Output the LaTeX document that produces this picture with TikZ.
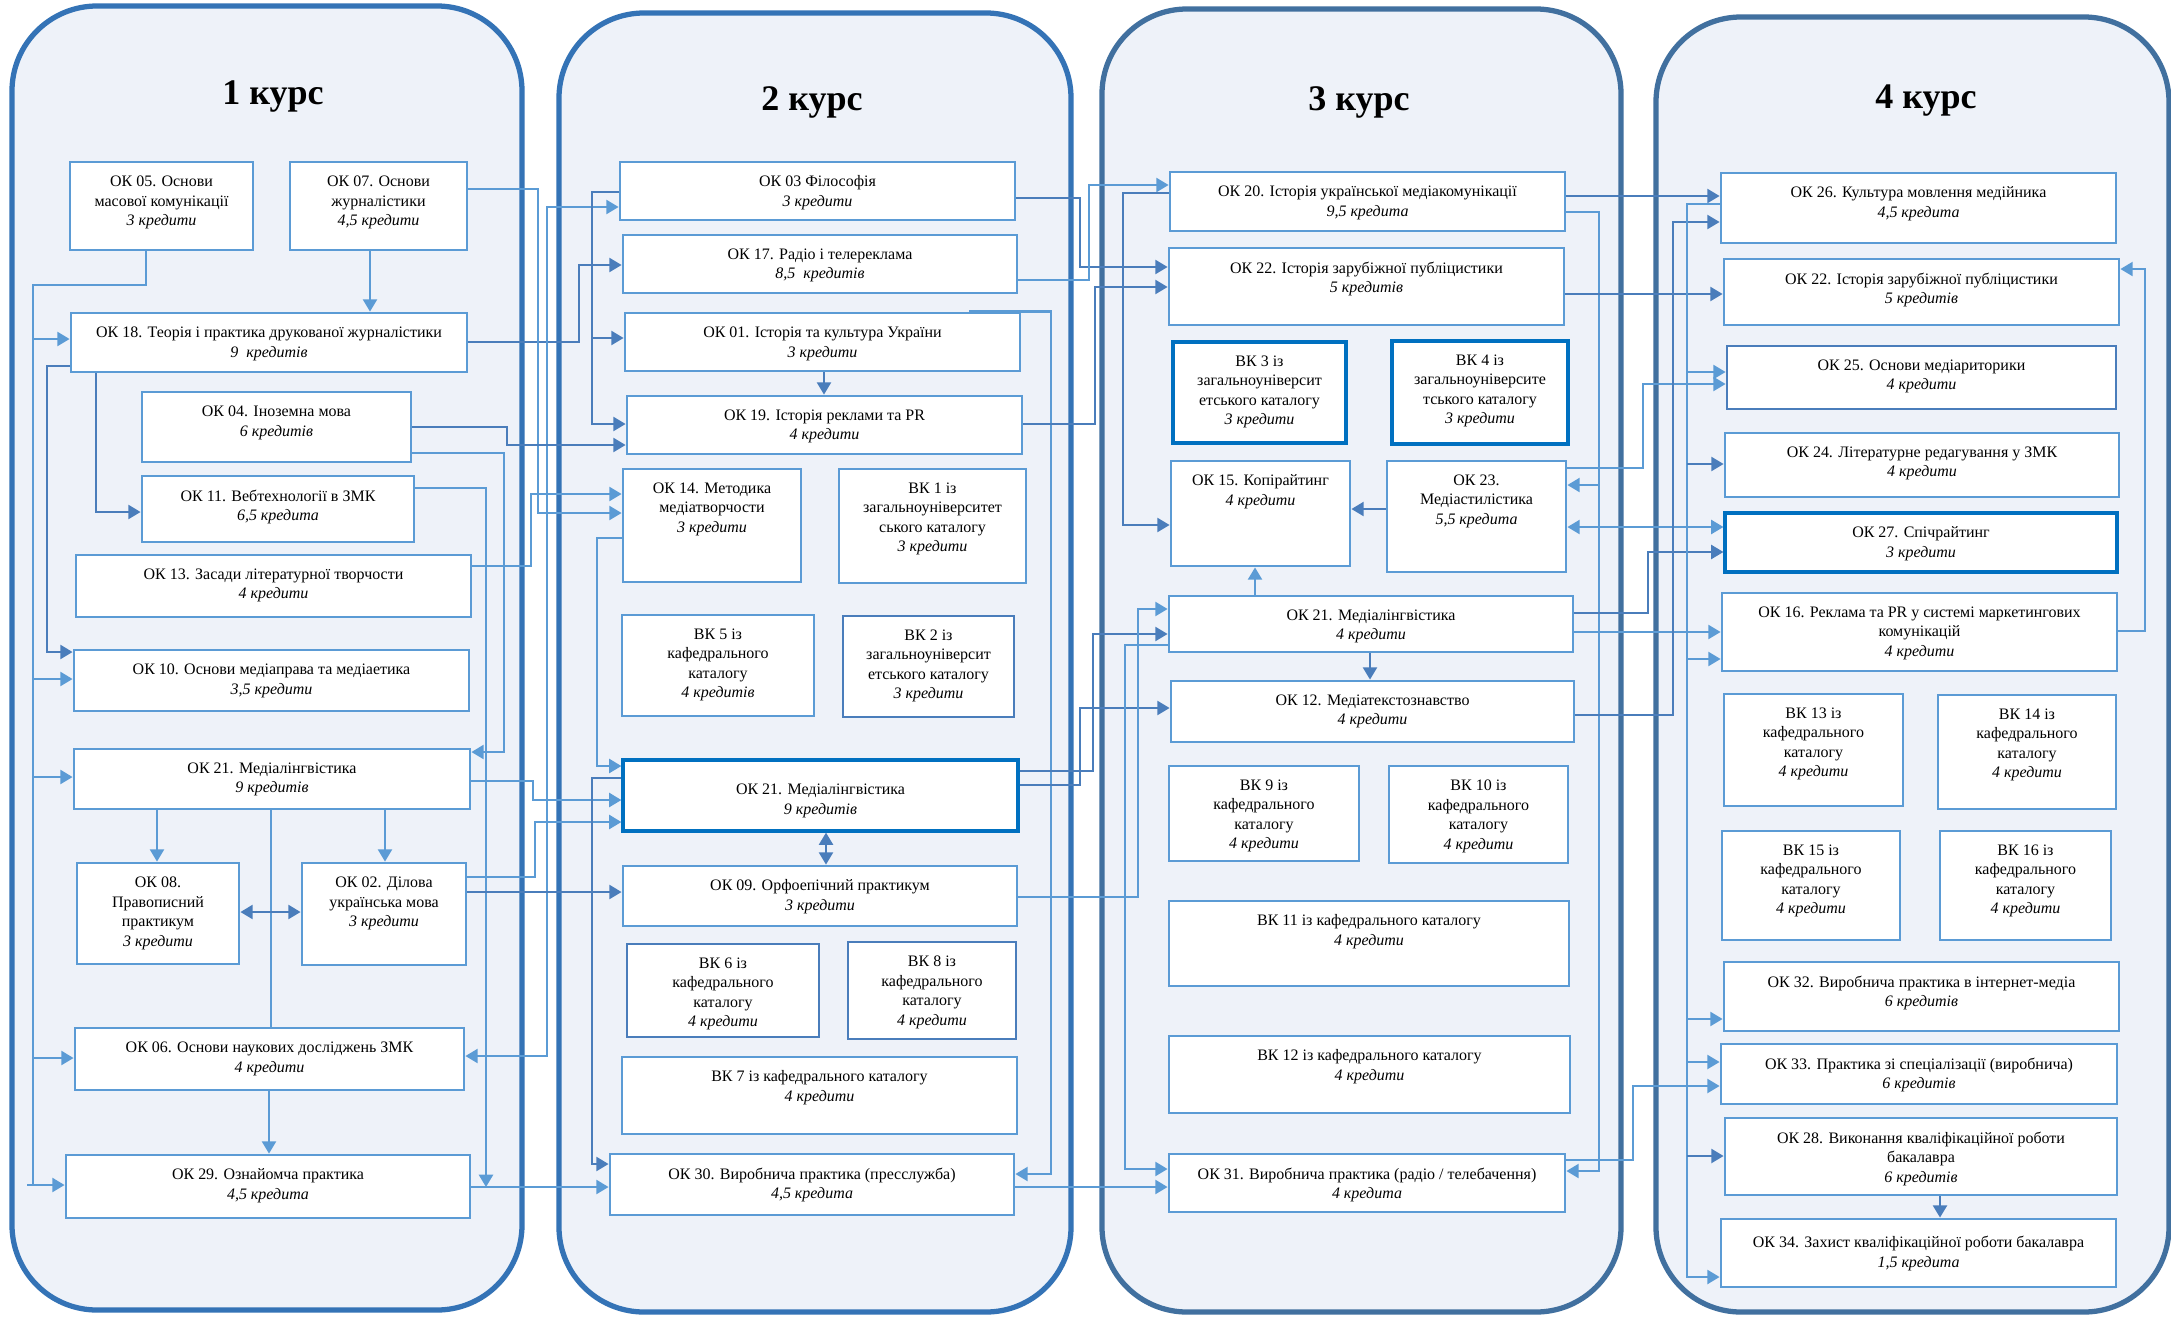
\documentclass[tikz,border=0pt]{standalone}
\usepackage{fontspec}
\setmainfont{Liberation Serif}
\usetikzlibrary{arrows.meta,fit,positioning}

\definecolor{pagefill}{HTML}{EEF2F9}
\definecolor{frameA}{HTML}{3473B6}
\definecolor{frameB}{HTML}{41709F}
\definecolor{lightblue}{HTML}{5B9BD5}
\definecolor{midblue}{HTML}{4A7DBB}
\definecolor{deepblue}{HTML}{0070C0}

\begin{document}
\begin{tikzpicture}[x=0.02cm, y=-0.02cm,
    course/.style={draw=frameA, line width=3pt, fill=pagefill, rounded corners=1.7cm},
    coursetitle/.style={anchor=base, font=\fontsize{20.5}{24}\selectfont\bfseries},
    box/.style={draw=lightblue, line width=1.6pt, fill=white, inner sep=0pt},
    boxmid/.style={box, draw=midblue},
    boxdeep/.style={box, draw=deepblue, line width=1.8pt},
    txt/.style={anchor=north, align=center, yshift=-6.5pt, inner sep=2pt,
        font=\fontsize{9.1}{11.1}\selectfont},
    link/.style={draw=lightblue, line width=1.3pt},
    linkmid/.style={link, draw=midblue},
    tip/.style={-{Triangle[length=7pt,width=8pt]}},
    tips/.style={{Triangle[length=7pt,width=8pt]}-{Triangle[length=7pt,width=8pt]}}
]
\useasboundingbox (0,0) rectangle (2171,1316);
\fill[white] (0,0) rectangle (2171,1316);

% courses
\draw[course] (12,6) rectangle (522,1310);
\draw[course] (559,13) rectangle (1071,1312);
\draw[course, draw=frameB] (1102,9) rectangle (1621,1312);
\draw[course, draw=frameB] (1656,17) rectangle (2169,1312);

\node (title1) [coursetitle] at (273,104) {1 курс};
\node (title2) [coursetitle] at (812,110) {2 курс};
\node (title3) [coursetitle] at (1359,110) {3 курс};
\node (title4) [coursetitle] at (1926,108) {4 курс};

% 1 курс
\node (ok05) [box, fit={(70,162) (253,250)}, label={[txt]north:{ОК 05. Основи\\масової комунікації\\\textit{3 кредити}}}] {};
\node (ok07) [box, fit={(290,162) (467,250)}, label={[txt]north:{ОК 07. Основи\\журналістики\\\textit{4,5 кредити}}}] {};
\node (ok18) [box, fit={(71,313) (467,372)}, label={[txt]north:{ОК 18. Теорія і практика друкованої журналістики\\\textit{9~ кредитів}}}] {};
\node (ok04) [box, fit={(142,392) (411,462)}, label={[txt]north:{ОК 04. Іноземна мова\\\textit{6 кредитів}}}] {};
\node (ok11) [box, fit={(142,476) (414,542)}, label={[txt]north:{ОК 11. Вебтехнології в ЗМК\\\textit{6,5 кредита}}}] {};
\node (ok13) [box, fit={(76,555) (471,617)}, label={[txt]north:{ОК 13. Засади літературної творчости\\\textit{4 кредити}}}] {};
\node (ok10) [box, fit={(74,650) (469,711)}, label={[txt]north:{ОК 10. Основи медіаправа та медіаетика\\\textit{3,5 кредити}}}] {};
\node (ok21a) [box, fit={(74,749) (470,809)}, label={[txt]north:{ОК 21. Медіалінгвістика\\\textit{9 кредитів}}}] {};
\node (ok08) [box, fit={(77,863) (239,964)}, label={[txt]north:{ОК 08.\\Правописний\\практикум\\\textit{3 кредити}}}] {};
\node (ok02) [box, fit={(302,863) (466,965)}, label={[txt]north:{ОК 02. Ділова\\українська мова\\\textit{3 кредити}}}] {};
\node (ok06) [box, fit={(75,1028) (464,1090)}, label={[txt]north:{ОК 06. Основи наукових досліджень ЗМК\\\textit{4 кредити}}}] {};
\node (ok29) [box, fit={(66,1155) (470,1218)}, label={[txt]north:{ОК 29. Ознайомча практика\\\textit{4,5 кредита}}}] {};

% 2 курс
\node (ok03) [box, fit={(620,162) (1015,220)}, label={[txt]north:{ОК 03 Філософія\\\textit{3 кредити}}}] {};
\node (ok17) [box, fit={(623,235) (1017,293)}, label={[txt]north:{ОК 17. Радіо і телереклама\\\textit{8,5~ кредитів}}}] {};
\node (ok01) [box, fit={(625,313) (1020,371)}, label={[txt]north:{ОК 01. Історія та культура України\\\textit{3 кредити}}}] {};
\node (ok19) [box, fit={(627,396) (1022,454)}, label={[txt]north:{ОК 19. Історія реклами та PR\\\textit{4 кредити}}}] {};
\node (ok14) [box, fit={(623,469) (801,582)}, label={[txt]north:{ОК 14. Методика\\медіатворчости\\\textit{3 кредити}}}] {};
\node (vk1) [box, fit={(839,469) (1026,583)}, label={[txt]north:{ВК 1 із\\загальноуніверситет\\ського каталогу\\\textit{3 кредити}}}] {};
\node (vk5) [box, fit={(622,615) (814,716)}, label={[txt]north:{ВК 5 із\\кафедрального\\каталогу\\\textit{4 кредитів}}}] {};
\node (vk2) [boxmid, fit={(843,616) (1014,717)}, label={[txt]north:{ВК 2 із\\загальноуніверсит\\етського каталогу\\\textit{3 кредити}}}] {};
\node (ok21b) [boxdeep, fit={(623,760) (1018,831)}, label={[txt, yshift=-6pt]north:{ОК 21. Медіалінгвістика\\\textit{9 кредитів}}}] {};
\node (ok09) [box, fit={(623,866) (1017,926)}, label={[txt]north:{ОК 09. Орфоепічний практикум\\\textit{3 кредити}}}] {};
\node (vk6) [boxmid, fit={(627,944) (819,1037)}, label={[txt]north:{ВК 6 із\\кафедрального\\каталогу\\\textit{4 кредити}}}] {};
\node (vk8) [boxmid, fit={(848,942) (1016,1039)}, label={[txt]north:{ВК 8 із\\кафедрального\\каталогу\\\textit{4 кредити}}}] {};
\node (vk7) [box, fit={(622,1057) (1017,1134)}, label={[txt]north:{ВК 7 із кафедрального каталогу\\\textit{4 кредити}}}] {};
\node (ok30) [box, fit={(610,1154) (1014,1215)}, label={[txt]north:{ОК 30. Виробнича практика (пресслужба)\\\textit{4,5 кредита}}}] {};

% 3 курс
\node (ok20) [box, fit={(1170,172) (1565,231)}, label={[txt]north:{ОК 20. Історія української медіакомунікації\\\textit{9,5 кредита}}}] {};
\node (ok22c) [box, fit={(1169,248) (1564,325)}, label={[txt]north:{ОК 22. Історія зарубіжної публіцистики\\\textit{5 кредитів}}}] {};
\node (vk3) [boxdeep, fit={(1173,342) (1346,443)}, label={[txt]north:{ВК 3 із\\загальноуніверсит\\етського каталогу\\\textit{3 кредити}}}] {};
\node (vk4) [boxdeep, fit={(1392,341) (1568,444)}, label={[txt]north:{ВК 4 із\\загальноуніверсите\\тського каталогу\\\textit{3 кредити}}}] {};
\node (ok15) [box, fit={(1171,461) (1350,566)}, label={[txt]north:{ОК 15. Копірайтинг\\\textit{4 кредити}}}] {};
\node (ok23) [box, fit={(1387,461) (1566,572)}, label={[txt]north:{ОК 23.\\Медіастилістика\\\textit{5,5 кредита}}}] {};
\node (ok21c) [box, fit={(1169,596) (1573,652)}, label={[txt]north:{ОК 21. Медіалінгвістика\\\textit{4 кредити}}}] {};
\node (ok12) [box, fit={(1171,681) (1574,742)}, label={[txt]north:{ОК 12. Медіатекстознавство\\\textit{4 кредити}}}] {};
\node (vk9) [box, fit={(1169,766) (1359,861)}, label={[txt]north:{ВК 9 із\\кафедрального\\каталогу\\\textit{4 кредити}}}] {};
\node (vk10) [box, fit={(1389,766) (1568,863)}, label={[txt]north:{ВК 10 із\\кафедрального\\каталогу\\\textit{4 кредити}}}] {};
\node (vk11) [box, fit={(1169,901) (1569,986)}, label={[txt]north:{ВК 11 із кафедрального каталогу\\\textit{4 кредити}}}] {};
\node (vk12) [box, fit={(1169,1036) (1570,1113)}, label={[txt]north:{ВК 12 із кафедрального каталогу\\\textit{4 кредити}}}] {};
\node (ok31) [box, fit={(1169,1154) (1565,1212)}, label={[txt]north:{ОК 31. Виробнича практика (радіо / телебачення)\\\textit{4 кредита}}}] {};

% 4 курс
\node (ok26) [box, fit={(1721,173) (2116,243)}, label={[txt]north:{ОК 26. Культура мовлення медійника\\\textit{4,5 кредита}}}] {};
\node (ok22d) [box, fit={(1724,259) (2119,325)}, label={[txt]north:{ОК 22. Історія зарубіжної публіцистики\\\textit{5 кредитів}}}] {};
\node (ok25) [boxmid, fit={(1727,346) (2116,409)}, label={[txt]north:{ОК 25. Основи медіариторики\\\textit{4 кредити}}}] {};
\node (ok24) [box, fit={(1725,433) (2119,497)}, label={[txt]north:{ОК 24. Літературне редагування у ЗМК\\\textit{4 кредити}}}] {};
\node (ok27) [boxdeep, fit={(1725,513) (2117,572)}, label={[txt]north:{ОК 27. Спічрайтинг\\\textit{3 кредити}}}] {};
\node (ok16) [box, fit={(1722,593) (2117,671)}, label={[txt]north:{ОК 16. Реклама та PR у системі маркетингових\\комунікацій\\\textit{4 кредити}}}] {};
\node (vk13) [box, fit={(1724,694) (1903,806)}, label={[txt]north:{ВК 13 із\\кафедрального\\каталогу\\\textit{4 кредити}}}] {};
\node (vk14) [box, fit={(1938,695) (2116,809)}, label={[txt]north:{ВК 14 із\\кафедрального\\каталогу\\\textit{4 кредити}}}] {};
\node (vk15) [box, fit={(1722,831) (1900,940)}, label={[txt]north:{ВК 15 із\\кафедрального\\каталогу\\\textit{4 кредити}}}] {};
\node (vk16) [box, fit={(1940,831) (2111,940)}, label={[txt]north:{ВК 16 із\\кафедрального\\каталогу\\\textit{4 кредити}}}] {};
\node (ok32) [box, fit={(1724,962) (2119,1031)}, label={[txt]north:{ОК 32. Виробнича практика в інтернет-медіа\\\textit{6 кредитів}}}] {};
\node (ok33) [box, fit={(1721,1044) (2117,1104)}, label={[txt]north:{ОК 33. Практика зі спеціалізації (виробнича)\\\textit{6 кредитів}}}] {};
\node (ok28) [box, fit={(1725,1118) (2117,1195)}, label={[txt]north:{ОК 28. Виконання кваліфікаційної роботи\\бакалавра\\\textit{6 кредитів}}}] {};
\node (ok34) [box, fit={(1721,1219) (2116,1287)}, label={[txt, yshift=-2pt]north:{ОК 34. Захист кваліфікаційної роботи бакалавра\\\textit{1,5 кредита}}}] {};

% links inside 1 курс
\draw[link] (ok05.south -| 146,0) |- (33,285) -- (33,1185) coordinate (bus05);
\draw[link, tip] (bus05 |- 0,339) -- (ok18.west |- 0,339);
\draw[link, tip] (bus05 |- 0,679) -- (ok10.west |- 0,679);
\draw[link, tip] (bus05 |- 0,777) -- (ok21a.west |- 0,777);
\draw[link, tip] (bus05 |- 0,1058) -- (ok06.west |- 0,1058);
\draw[link, tip] (27,1185) -- (ok29.west |- 0,1185);
\draw[linkmid, tip] (ok18.west |- 0,366) -| (47,652) -- (ok10.west |- 0,652);
\draw[linkmid, tip] (ok18.south -| 96,0) |- (ok11.west |- 0,512);
\draw[link, tip] (ok07.south -| 370,0) -- (ok18.north -| 370,0);
\draw[link, tip] (ok21a.south -| 157,0) -- (ok08.north -| 157,0);
\draw[link, tip] (ok21a.south -| 385,0) -- (ok02.north -| 385,0);
\draw[link] (ok21a.south -| 271,0) -- (ok06.north -| 271,0);
\draw[linkmid, tips] (ok08.east |- 0,912) -- (ok02.west |- 0,912);
\draw[link, tip] (ok06.south -| 269,0) -- (ok29.north -| 269,0);
\coordinate (join29) at (486,1187);
\draw[link, tip] (ok11.east |- 0,488) -| (join29);

% 1 курс -> 2 курс
\draw[linkmid, tip] (ok18.east |- 0,342) -| (579,265) -- (ok17.west |- 0,265);
\draw[link, tip] (ok07.east |- 0,189) -| (538,513) -- (ok14.west |- 0,513);
\draw[link, tips] (ok03.west |- 0,207) -| (547,1056) -- (ok06.east |- 0,1056);
\draw[linkmid, tip] (ok04.east |- 0,427) -| (507,445) -- (ok19.west |- 0,445);
\draw[link, tip] (ok04.east |- 0,453) -| (504,752) -- (ok21a.east |- 0,752);
\draw[link, tip] (ok13.east |- 0,566) -| (531,494) -- (ok14.west |- 0,494);
\draw[link, tip] (ok21a.east |- 0,781) -| (533,800) -- (ok21b.west |- 0,800);
\draw[link, tip] (ok02.east |- 0,877) -| (535,822) -- (ok21b.west |- 0,822);
\draw[linkmid, tip] (ok02.east |- 0,892) -- (ok09.west |- 0,892);
\draw[link, tip] (ok29.east |- 0,1187) -- (ok30.west |- 0,1187);

% links inside 2 курс
\draw[linkmid, tip] (ok03.west |- 0,192) -| (592,424) coordinate (bus03) -- (ok19.west |- 0,424);
\draw[linkmid, tip] (bus03 |- 0,338) -- (ok01.west |- 0,338);
\draw[link, tip] (ok14.west |- 0,538) -| (597,766) -- (ok21b.west |- 0,766);
\draw[linkmid, tip] (ok21b.west |- 0,778) -| (592,1164) -- (ok30.west |- 0,1164);
\draw[linkmid, tip] (ok01.south -| 824,0) -- (ok19.north -| 824,0);
\draw[linkmid, tips] (ok21b.south -| 826,0) -- (ok09.north -| 826,0);
\draw[link, tip] (ok01.north -| 969,0) -| (1051,1174) -- (ok30.east |- 0,1174);

% 2 курс -> 3 курс
\draw[linkmid, tip] (ok03.east |- 0,198) -| (1080,267) -- (ok22c.west |- 0,267);
\draw[link, tip] (ok17.east |- 0,280) -| (1089,185) -- (ok20.west |- 0,185);
\draw[linkmid, tip] (ok19.east |- 0,424) -| (1095,287) -- (ok22c.west |- 0,287);
\draw[linkmid, tip] (ok21b.east |- 0,771) -| (1093,634) -- (ok21c.west |- 0,634);
\draw[linkmid, tip] (ok21b.east |- 0,785) -| (1080,708) -- (ok12.west |- 0,708);
\draw[link, tip] (ok09.east |- 0,897) -| (1138,609) -- (ok21c.west |- 0,609);
\draw[link, tip] (ok30.east |- 0,1187) -- (ok31.west |- 0,1187);

% links inside 3 курс
\draw[linkmid, tip] (ok20.west |- 0,193) -| (1123,525) -- (ok15.west |- 0,525);
\draw[link, tip] (ok21c.west |- 0,645) -| (1125,1169) -- (ok31.west |- 0,1169);
\draw[linkmid, tip] (ok23.west |- 0,509) -- (ok15.east |- 0,509);
\draw[link, tip] (ok21c.north -| 1255,0) -- (ok15.south -| 1255,0);
\draw[linkmid, tip] (ok21c.south -| 1370,0) -- (ok12.north -| 1370,0);
\draw[link, tip] (ok20.east |- 0,212) -| (1599,1171) coordinate (bus20) -- (ok31.east |- 0,1171);
\draw[link, tip] (bus20 |- 0,485) -- (ok23.east |- 0,485);

% 3 курс -> 4 курс
\draw[linkmid, tip] (ok20.east |- 0,196) -- (ok26.west |- 0,196);
\draw[linkmid, tip] (ok22c.east |- 0,294) -- (ok22d.west |- 0,294);
\draw[link, tip] (ok23.east |- 0,468) -| (1643,384) -- (ok25.west |- 0,384);
\draw[link, tips] (ok23.east |- 0,527) -- (ok27.west |- 0,527);
\draw[linkmid, tip] (ok21c.east |- 0,613) -| (1648,552) -- (ok27.west |- 0,552);
\draw[link, tip] (ok21c.east |- 0,632) -- (ok16.west |- 0,632);
\draw[linkmid, tip] (ok12.east |- 0,715) -| (1673,222) -- (ok26.west |- 0,222);
\draw[link, tip] (ok31.east |- 0,1160) -| (1633,1086) -- (ok33.west |- 0,1086);

% links inside 4 курс
\draw[link, tip] (ok26.west |- 0,204) -| (1687,1277) coordinate (bus26) -- (ok34.west |- 0,1277);
\draw[link, tip] (bus26 |- 0,372) -- (ok25.west |- 0,372);
\draw[linkmid, tip] (bus26 |- 0,464) -- (ok24.west |- 0,464);
\draw[link, tip] (bus26 |- 0,659) -- (ok16.west |- 0,659);
\draw[link, tip] (bus26 |- 0,1019) -- (ok32.west |- 0,1019);
\draw[link, tip] (bus26 |- 0,1062) -- (ok33.west |- 0,1062);
\draw[linkmid, tip] (bus26 |- 0,1156) -- (ok28.west |- 0,1156);
\draw[link, tip] (ok16.east |- 0,631) -| (2145,269) -- (ok22d.east |- 0,269);
\draw[linkmid, tip] (ok28.south -| 1940,0) -- (ok34.north -| 1940,0);
\end{tikzpicture}
\end{document}
